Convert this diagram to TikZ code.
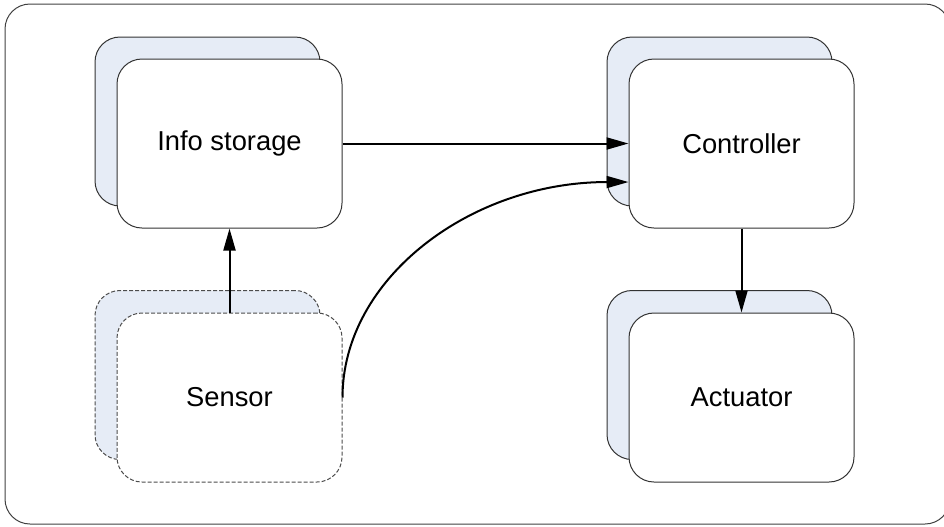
\documentclass[tikz,border=0pt]{standalone}
\usepackage{fontspec}
\setmainfont{Liberation Sans}
\usetikzlibrary{arrows.meta}
\definecolor{backblue}{RGB}{230,236,246}
\tikzset{
  card/.style={draw=black!80, fill=white, rounded corners=18.75pt,
    minimum width=168.75pt, minimum height=126.75pt, inner sep=0pt,
    line width=0.75pt, font=\fontsize{20.5}{24}\selectfont},
  backcard/.style={card, fill=backblue},
  dashedcard/.style={dash pattern=on 3pt off 1.5pt, draw=black!70},
  flow/.style={line width=1.5pt, -{Triangle[length=16.5pt,width=9pt]}},
  frame/.style={draw=black!75, line width=0.75pt, rounded corners=18.75pt}
}
\begin{document}
\begin{tikzpicture}[x=0.75pt,y=-0.75pt]
  \useasboundingbox (0,0) rectangle (944,526);
  % outer frame (its right side runs past the page edge)
  \draw[frame] (5,4) rectangle (950,524);

  % stacked cards: back copy offset up and to the left
  \node[backcard] (infoBack) at (207.5,121.5) {};
  \node[card] (info) at (229.5,143.5) {Info storage};

  \node[backcard] (ctrlBack) at (719.5,121.5) {};
  \node[card] (ctrl) at (741.5,143.5) {Controller};

  \node[backcard, dashedcard] (sensBack) at (207.5,375) {};
  \node[card, dashedcard] (sens) at (229.5,397.5) {Sensor};

  \node[backcard] (actBack) at (719.5,375) {};
  \node[card] (act) at (741.5,397.5) {Actuator};

  % connectors
  \coordinate (ctrlIn) at ([yshift=-28.9pt]ctrl.west);
  \draw[flow] (info.east) -- (info.east -| ctrl.west);
  \draw[flow] (sens.north) -- (info.south);
  \draw[flow] (ctrl.south) -- (act.north);
  \draw[flow] (sens.east) .. controls +(0,-119) and +(-158,0) .. (ctrlIn);
\end{tikzpicture}
\end{document}
